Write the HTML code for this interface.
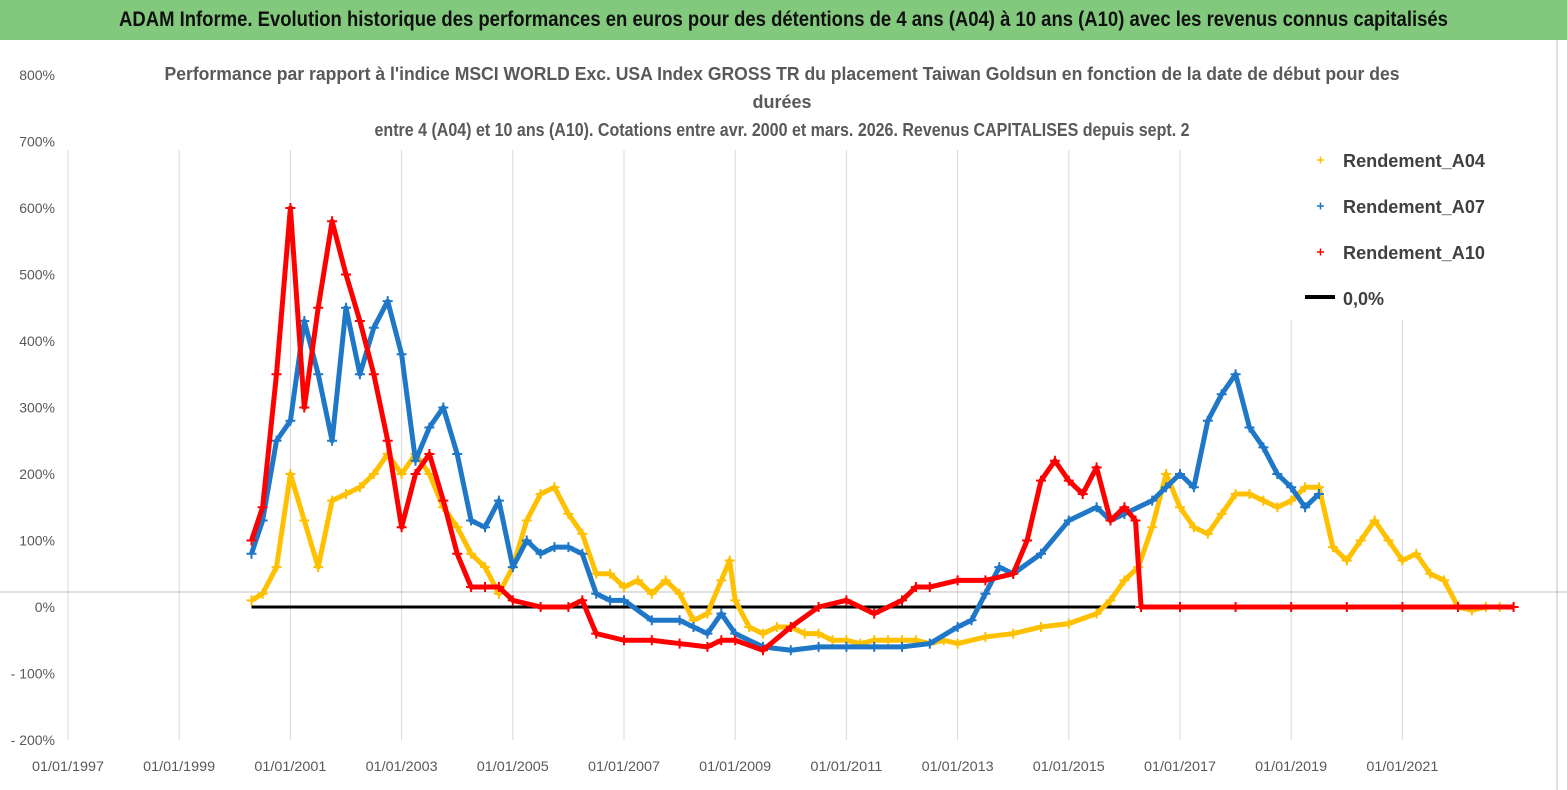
<!DOCTYPE html>
<html><head><meta charset="utf-8">
<style>
body{margin:0;width:1567px;height:790px;background:#fff;overflow:hidden;font-family:"Liberation Sans",sans-serif}
#hdr{position:absolute;left:0;top:0;width:1567px;height:40px;background:#82c97d;}
#hdr span{position:absolute;left:0;width:1567px;text-align:center;top:8px;font-weight:bold;font-size:21px;color:#111;transform:scaleX(0.88);transform-origin:center}
svg{position:absolute;left:0;top:0}
</style></head><body>
<div id="hdr"><span>ADAM Informe. Evolution historique des performances en euros pour des détentions de 4 ans (A04) à 10 ans (A10) avec les revenus connus capitalisés</span></div>
<svg id="c" width="1567" height="790"></svg>
<script>
const yTicks=[800,700,600,500,400,300,200,100,0,-100,-200];
const xTicks=[1997,1999,2001,2003,2005,2007,2009,2011,2013,2015,2017,2019,2021];
const a04Years=[2000.3,2000.5,2000.75,2001,2001.25,2001.5,2001.75,2002,2002.25,2002.5,2002.75,2003,2003.25,2003.5,2003.75,2004,2004.25,2004.5,2004.75,2005,2005.25,2005.5,2005.75,2006,2006.25,2006.5,2006.75,2007,2007.25,2007.5,2007.75,2008,2008.25,2008.5,2008.75,2008.9,2009,2009.25,2009.5,2009.75,2010,2010.25,2010.5,2010.75,2011,2011.25,2011.5,2011.75,2012,2012.25,2012.5,2012.75,2013,2013.5,2014,2014.5,2015,2015.5,2015.75,2016,2016.25,2016.5,2016.75,2017,2017.25,2017.5,2017.75,2018,2018.25,2018.5,2018.75,2019,2019.25,2019.5,2019.75,2020,2020.25,2020.5,2020.75,2021,2021.25,2021.5,2021.75,2022,2022.25,2022.5,2022.75,2023];
const a04Vals=[10,20,60,200,130,60,160,170,180,200,230,200,230,200,150,120,80,60,20,60,130,170,180,140,110,50,50,30,40,20,40,20,-20,-10,40,70,10,-30,-40,-30,-30,-40,-40,-50,-50,-55,-50,-50,-50,-50,-55,-50,-55,-45,-40,-30,-25,-10,10,40,60,120,200,150,120,110,140,170,170,160,150,160,180,180,90,70,100,130,100,70,80,50,40,0,-5,0,0,0];
const a07Years=[2000.3,2000.5,2000.75,2001,2001.25,2001.5,2001.75,2002,2002.25,2002.5,2002.75,2003,2003.25,2003.5,2003.75,2004,2004.25,2004.5,2004.75,2005,2005.25,2005.5,2005.75,2006,2006.25,2006.5,2006.75,2007,2007.5,2008,2008.25,2008.5,2008.75,2009,2009.5,2010,2010.5,2011,2011.5,2012,2012.5,2013,2013.25,2013.5,2013.75,2014,2014.5,2015,2015.5,2015.75,2016,2016.5,2016.75,2017,2017.25,2017.5,2017.75,2018,2018.25,2018.5,2018.75,2019,2019.25,2019.5];
const a07Vals=[80,130,250,280,430,350,250,450,350,420,460,380,220,270,300,230,130,120,160,60,100,80,90,90,80,20,10,10,-20,-20,-30,-40,-10,-40,-60,-65,-60,-60,-60,-60,-55,-30,-20,20,60,50,80,130,150,130,140,160,180,200,180,280,320,350,270,240,200,180,150,170];
const a10Years=[2000.3,2000.5,2000.75,2001,2001.25,2001.5,2001.75,2002,2002.25,2002.5,2002.75,2003,2003.25,2003.5,2003.75,2004,2004.25,2004.5,2004.75,2005,2005.5,2006,2006.25,2006.5,2007,2007.5,2008,2008.5,2008.75,2009,2009.5,2010,2010.5,2011,2011.5,2012,2012.25,2012.5,2013,2013.5,2014,2014.25,2014.5,2014.75,2015,2015.25,2015.5,2015.75,2016,2016.2,2016.3,2017,2018,2019,2020,2021,2022,2023];
const a10Vals=[100,150,350,600,300,450,580,500,430,350,250,120,200,230,160,80,30,30,30,10,0,0,10,-40,-50,-50,-55,-60,-50,-50,-65,-30,0,10,-10,10,30,30,40,40,50,100,190,220,190,170,210,130,150,130,0,0,0,0,0,0,0,0];
const zeroStart=2000.3, zeroEnd=2016.2;

const NS='http://www.w3.org/2000/svg';
const svg=document.getElementById('c');
function X(y){return 68+(y-1997)*55.6;}
function Y(v){return 607-v*0.665;}
function el(t,a,p){const e=document.createElementNS(NS,t);for(const k in a)e.setAttribute(k,a[k]);(p||svg).appendChild(e);return e;}

xTicks.forEach(t=>{
 const g=el('line',{x1:X(t),x2:X(t),y1:150,y2:740,stroke:'#d9d9d9','stroke-width':1});
 
 
 const tx=el('text',{x:X(t),y:771,'text-anchor':'middle','font-size':14,fill:'#595959',textLength:72,lengthAdjust:'spacingAndGlyphs'});
 tx.textContent='01/01/'+t;
 
 
});
yTicks.forEach(t=>{
 const tx=el('text',{x:55,y:Y(t)+5,'text-anchor':'end','font-size':14,fill:'#595959'});
 tx.textContent=(t<0?'- '+(-t):t)+'%';
 
 
});
const hl=el('line',{x1:0,x2:1567,y1:592,y2:592,stroke:'#bfbfbf','stroke-width':1});


const vl=el('line',{x1:1557,x2:1557,y1:40,y2:790,stroke:'#bfbfbf','stroke-width':1});



const titles=["Performance par rapport à l'indice MSCI WORLD Exc. USA Index GROSS TR  du placement Taiwan Goldsun  en fonction de la date de début pour des","durées","entre 4 (A04) et 10 ans (A10).  Cotations entre avr. 2000 et mars. 2026. Revenus CAPITALISES depuis sept. 2"];
const tLens=[1235,0,815];
titles.forEach((s,i)=>{
 const tx=el('text',{x:782,y:80+i*28,'text-anchor':'middle','font-size':18,'font-weight':'bold',fill:'#595959'});
 if(tLens[i]){tx.setAttribute('textLength',tLens[i]);tx.setAttribute('lengthAdjust','spacingAndGlyphs');}
 tx.textContent=s;
 
 
});

function series(ys,vs,color,name){
 const g=el('g',{});
 
 
 const pts=ys.map((y,i)=>X(y)+','+Y(vs[i])).join(' ');
 el('polyline',{points:pts,fill:'none',stroke:color,'stroke-width':5,'stroke-linejoin':'round'},g);
 let d='';
 ys.forEach((y,i)=>{const x=X(y),yy=Y(vs[i]);d+=`M${x-5},${yy}h10M${x},${yy-5}v10`;});
 el('path',{d:d,stroke:color,'stroke-width':2,fill:'none'},g);
}
const z=el('line',{x1:X(zeroStart),x2:X(zeroEnd),y1:Y(0),y2:Y(0),stroke:'#000','stroke-width':3});


series(a04Years,a04Vals,'#ffc000','series-a04');
series(a07Years,a07Vals,'#1f77c8','series-a07');
series(a10Years,a10Vals,'#ff0000','series-a10');

const lg=el('g',{});


el('rect',{x:1290,y:142,width:210,height:178,fill:'#fff'},lg);
[['Rendement_A04','#ffc000'],['Rendement_A07','#1f77c8'],['Rendement_A10','#ff0000'],['0,0%','#000']].forEach((e,i)=>{
 const y=160+i*46;
 if(i<3){el('path',{d:`M1317,${y}h7M1320.5,${y-3.5}v7`,stroke:e[1],'stroke-width':1.5},lg);}
 else el('line',{x1:1305,x2:1335,y1:y-1,y2:y-1,stroke:'#000','stroke-width':4},lg);
 const tx=el('text',{x:1343,y:y+7,'font-size':18,'font-weight':'bold',fill:'#404040'},lg);
 if(i<3){tx.setAttribute('textLength',142);tx.setAttribute('lengthAdjust','spacingAndGlyphs');}
 tx.textContent=e[0];
 
 
});
</script>
</body></html>
